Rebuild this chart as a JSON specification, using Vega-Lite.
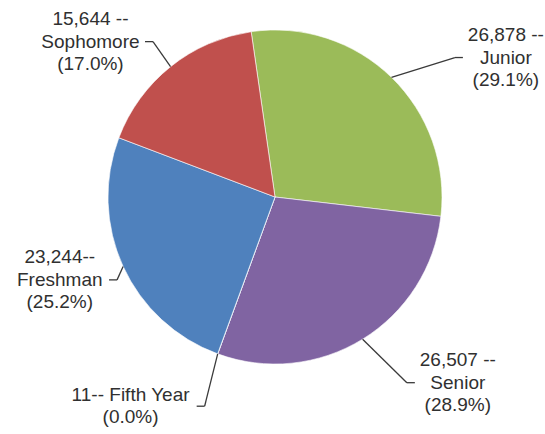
{
  "$schema": "https://vega.github.io/schema/vega-lite/v6.json",
  "width": 540,
  "height": 394,
  "autosize": {"type": "none"},
  "padding": {"left": 5, "top": 0, "right": 0, "bottom": 40},
  "background": "white",
  "config": {"view": {"stroke": null}},
  "data": {
    "values": [
      {"idx": 1, "class": "Junior", "value": 26878, "l1": "26,878 --", "l2": "Junior", "l3": "(29.1%)"},
      {"idx": 2, "class": "Senior", "value": 26507, "l1": "26,507 --", "l2": "Senior", "l3": "(28.9%)"},
      {"idx": 3, "class": "Fifth Year", "value": 11, "l1": "11-- Fifth Year", "l2": "(0.0%)", "l3": ""},
      {"idx": 4, "class": "Freshman", "value": 23244, "l1": "23,244--", "l2": "Freshman", "l3": "(25.2%)"},
      {"idx": 5, "class": "Sophomore", "value": 15644, "l1": "15,644 --", "l2": "Sophomore", "l3": "(17.0%)"}
    ]
  },
  "transform": [
    {"joinaggregate": [{"op": "sum", "field": "value", "as": "total"}]},
    {"window": [{"op": "sum", "field": "value", "as": "cum"}], "sort": [{"field": "idx"}], "frame": [null, 0]},
    {"calculate": "-0.1431 + 2*PI*(datum.cum - datum.value/2)/datum.total", "as": "mid"},
    {"calculate": "sin(datum.mid)", "as": "s"},
    {"calculate": "cos(datum.mid)", "as": "c"},
    {"calculate": "datum.s >= 0 ? 1 : -1", "as": "side"},
    {"calculate": "datum.l3 ? 3 : 2", "as": "nl"},
    {"calculate": "10.57*length(datum.l1) - 5.3*length(replace(datum.l1, regexp('[^,. ()rftiIJ-]','g'), '')) + 5.3*length(replace(datum.l1, regexp('[^m%]','g'), '')) + 2*length(replace(datum.l1, regexp('[^A-HK-Z]','g'), ''))", "as": "w1"},
    {"calculate": "10.57*length(datum.l2) - 5.3*length(replace(datum.l2, regexp('[^,. ()rftiIJ-]','g'), '')) + 5.3*length(replace(datum.l2, regexp('[^m%]','g'), '')) + 2*length(replace(datum.l2, regexp('[^A-HK-Z]','g'), ''))", "as": "w2"},
    {"calculate": "10.57*length(datum.l3) - 5.3*length(replace(datum.l3, regexp('[^,. ()rftiIJ-]','g'), '')) + 5.3*length(replace(datum.l3, regexp('[^m%]','g'), '')) + 2*length(replace(datum.l3, regexp('[^A-HK-Z]','g'), ''))", "as": "w3"},
    {"calculate": "max(datum.w1, datum.w2, datum.w3)/2", "as": "hw"},
    {"calculate": "datum.s * (datum.s >= 0 ? 278 : 280 - 100*abs(datum.s))", "as": "edge"},
    {"calculate": "6 - datum.c*(160 + 60*abs(datum.c))", "as": "ym"},
    {"calculate": "167*datum.s", "as": "x0"},
    {"calculate": "-167*datum.c", "as": "y0"},
    {"calculate": "datum.edge - 6*datum.side", "as": "xe"},
    {"calculate": "datum.xe - 8*datum.side", "as": "xc"},
    {"calculate": "datum.edge + datum.side*datum.hw", "as": "tx"},
    {"calculate": "datum.ym - (datum.nl - 1)/2*22.5", "as": "ty"},
    {"calculate": "datum.l3 ? [datum.l1, datum.l2, datum.l3] : [datum.l1, datum.l2]", "as": "label"}
  ],
  "layer": [
    {
      "mark": {"type": "arc", "outerRadius": 167, "stroke": "white", "strokeWidth": 0.6},
      "encoding": {
        "theta": {"field": "value", "type": "quantitative", "stack": true, "scale": {"range": [-0.1431, 6.1401]}},
        "order": {"field": "idx", "type": "quantitative"},
        "color": {
          "field": "class",
          "type": "nominal",
          "scale": {
            "domain": ["Freshman", "Sophomore", "Junior", "Senior", "Fifth Year"],
            "range": ["#4F81BD", "#C0504D", "#9BBB59", "#8064A2", "#4BACC6"]
          },
          "legend": null
        }
      }
    },
    {
      "mark": {"type": "rule", "color": "#3a3a3a", "strokeWidth": 1.3},
      "encoding": {
        "x": {"field": "x0", "type": "quantitative", "scale": {"domain": [-270, 270], "nice": false, "zero": false}, "axis": null},
        "y": {"field": "y0", "type": "quantitative", "scale": {"domain": [-197, 197], "nice": false, "zero": false, "reverse": true}, "axis": null},
        "x2": {"field": "xc"},
        "y2": {"field": "ym"}
      }
    },
    {
      "mark": {"type": "rule", "color": "#3a3a3a", "strokeWidth": 1.3},
      "encoding": {
        "x": {"field": "xc", "type": "quantitative"},
        "y": {"field": "ym", "type": "quantitative"},
        "x2": {"field": "xe"}
      }
    },
    {
      "mark": {"type": "text", "align": "center", "baseline": "middle", "font": "Liberation Sans", "fontSize": 19, "lineHeight": 22.5, "color": "#303030"},
      "encoding": {
        "x": {"field": "tx", "type": "quantitative"},
        "y": {"field": "ty", "type": "quantitative"},
        "text": {"field": "label"}
      }
    }
  ]
}
